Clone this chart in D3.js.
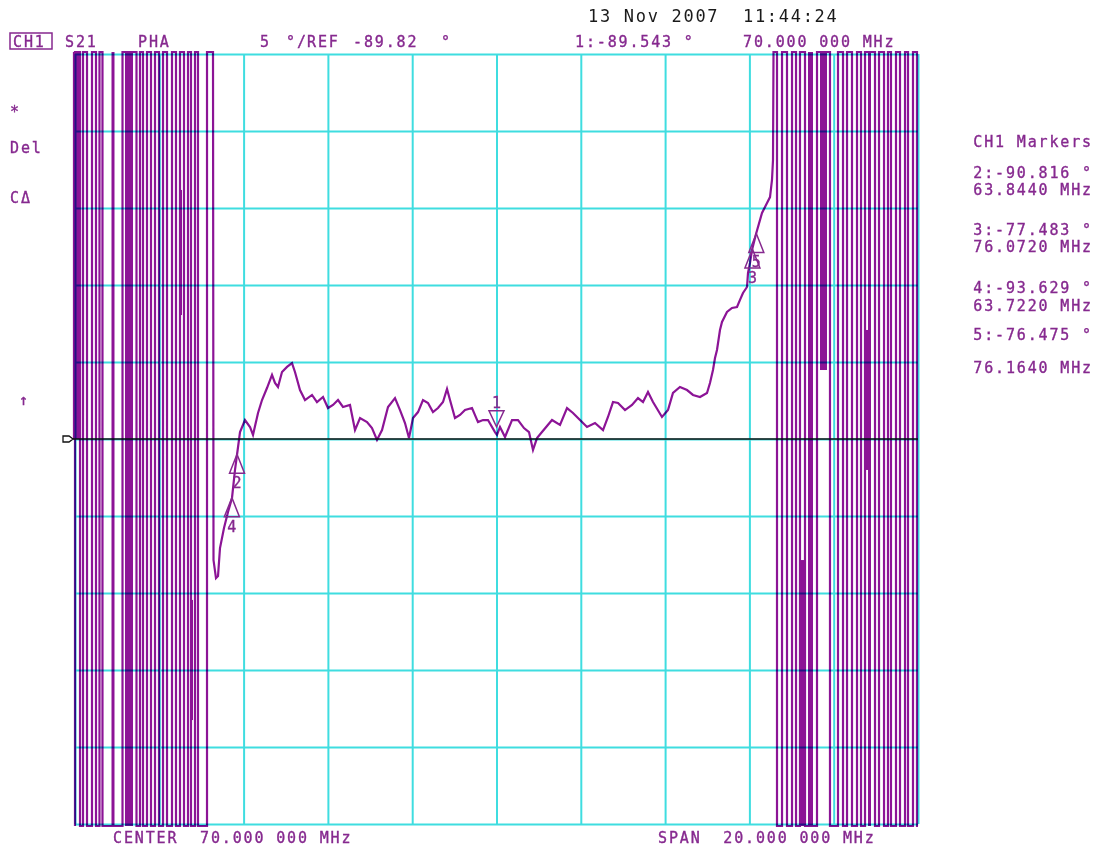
<!DOCTYPE html>
<html>
<head>
<meta charset="utf-8">
<script src="https://cdn.jsdelivr.net/npm/d3@7"></script>
<style>
  body { margin: 0; background: #fff; }
  svg text { font-family: "DejaVu Sans Mono", monospace; font-size: 15px; letter-spacing: 1.85px;
             fill: #86298f; stroke: #86298f; stroke-width: 0.35px; white-space: pre; }
</style>
</head>
<body>
<svg id="chart" width="1104" height="848"></svg>
<script>
// Instrument settings
const startMHz = 60, stopMHz = 80;
const refDeg = -89.82, degPerDiv = 5;

// Main (unwrapped, on-screen) part of the S21 phase trace
const traceFreq = [63.274, 63.286, 63.345, 63.393, 63.440, 63.535, 63.630, 63.725, 63.796, 63.843,
  63.915, 64.033, 64.152, 64.223, 64.342, 64.437, 64.555, 64.674, 64.745, 64.816,
  64.911, 65.030, 65.148, 65.219, 65.338, 65.457, 65.623, 65.741, 65.884, 66.002,
  66.121, 66.240, 66.358, 66.524, 66.643, 66.762, 66.928, 67.046, 67.165, 67.284,
  67.426, 67.592, 67.711, 67.829, 67.924, 68.019, 68.138, 68.256, 68.375, 68.493,
  68.612, 68.731, 68.826, 68.897, 69.015, 69.134, 69.253, 69.419, 69.561, 69.680,
  69.798, 69.964, 70.012, 70.083, 70.202, 70.368, 70.510, 70.652, 70.771, 70.866,
  70.961, 71.079, 71.317, 71.507, 71.673, 71.815, 71.981, 72.147, 72.337, 72.527,
  72.645, 72.764, 72.883, 73.049, 73.215, 73.357, 73.476, 73.594, 73.713, 73.926,
  74.069, 74.187, 74.353, 74.520, 74.662, 74.828, 74.994, 75.065, 75.136, 75.184,
  75.231, 75.302, 75.350, 75.468, 75.587, 75.706, 75.777, 75.848, 75.943, 75.967,
  76.014, 76.062, 76.157, 76.299, 76.418, 76.489, 76.536, 76.560, 76.572];
const tracePhase = [180, -97.68, -98.85, -98.72, -96.90, -95.60, -94.56, -93.65, -91.83, -90.86,
  -89.37, -88.59, -89.04, -89.56, -88.13, -87.29, -86.51, -85.66, -86.18, -86.44,
  -85.47, -85.14, -84.89, -85.47, -86.64, -87.29, -86.96, -87.42, -87.09, -87.81,
  -87.61, -87.29, -87.74, -87.61, -89.24, -88.46, -88.72, -89.11, -89.88, -89.24,
  -87.74, -87.16, -87.94, -88.78, -89.76, -88.46, -88.07, -87.29, -87.48, -88.07,
  -87.81, -87.42, -86.57, -87.29, -88.46, -88.26, -87.94, -87.81, -88.72, -88.59,
  -88.59, -89.37, -89.56, -89.04, -89.69, -88.59, -88.59, -89.11, -89.37, -90.53,
  -89.76, -89.37, -88.59, -88.91, -87.81, -88.13, -88.59, -89.04, -88.78, -89.24,
  -88.39, -87.42, -87.48, -87.94, -87.61, -87.16, -87.42, -86.77, -87.42, -88.39,
  -87.94, -86.83, -86.44, -86.64, -86.96, -87.09, -86.83, -86.18, -85.34, -84.56,
  -84.04, -82.74, -82.22, -81.57, -81.31, -81.25, -80.79, -80.34, -79.95, -79.04,
  -78.39, -77.55, -76.51, -75.14, -74.49, -74.11, -73.00, -71.70, 180];

// Phase-wrap regions: frequencies (MHz) where the trace jumps top <-> bottom
const leftWrapEdges = [60.000, 60.119, 60.190, 60.285, 60.403, 60.498, 60.581, 60.652, 61.127,
  61.459, 61.542, 61.613, 61.708, 61.803, 61.898, 61.993, 62.088, 62.183, 62.301, 62.396,
  62.491, 62.586, 62.681, 62.752, 62.847, 62.918, 63.132];
const rightWrapEdges = [76.655, 76.774, 76.892, 77.011, 77.106, 77.200, 77.319, 77.604, 77.912,
  78.102, 78.221, 78.316, 78.434, 78.553, 78.648, 78.743, 78.980, 79.075, 79.194, 79.288,
  79.359, 79.478, 79.573, 79.692, 79.763, 79.881, 79.976];
// dense (solid) bundles of wrap lines: [fromMHz, toMHz]
const wrapBars = [[60.866, 60.937], [61.186, 61.376], [77.390, 77.509], [78.814, 78.885]];
// partial dense bundles: [fromMHz, toMHz, highDeg, lowDeg]
const wrapStubs = [[59.95, 60.119, 180, -89.82], [62.468, 62.539, -73.65, -81.77],
  [62.729, 62.800, -100.27, -108.07], [77.675, 77.841, 180, -85.34],
  [78.743, 78.861, -82.74, -91.83], [77.200, 77.343, -97.68, -180]];

// Markers
const markerIds = ["1", "2", "3", "4", "5"];
const markerFreq = [70.000, 63.844, 76.072, 63.722, 76.164];
const markerPhase = [-89.543, -90.816, -77.483, -93.629, -76.475];

const svg = d3.select("#chart");
const plotLeft = 75, plotRight = 918, plotTop = 54, plotBottom = 824;
const purple = "#8c1496";
const textPurple = "#86298f";

const x = d3.scaleLinear().domain([startMHz, stopMHz]).range([plotLeft, plotRight]);
const y = d3.scaleLinear().domain([refDeg - 5 * degPerDiv, refDeg + 5 * degPerDiv]).range([plotBottom, plotTop]);
// off-screen values are drawn on the graticule edge
const yc = v => Math.max(plotTop - 2, Math.min(plotBottom + 2, y(v)));

// Build the full trace: left wrap, main trace, right wrap
const TOP = 180, BOTTOM = -180;
const pts = [];
let state = BOTTOM;
pts.push([startMHz, state]);
leftWrapEdges.forEach(f => {
    pts.push([f, state]);
    state = state === TOP ? BOTTOM : TOP;
    pts.push([f, state]);
});
traceFreq.forEach((f, i) => pts.push([f, tracePhase[i]]));
state = TOP;
rightWrapEdges.forEach(f => {
    pts.push([f, state]);
    state = state === TOP ? BOTTOM : TOP;
    pts.push([f, state]);
});
pts.push([stopMHz, state]);

const traceG = svg.append("g");

traceG.selectAll(".bar")
    .data(wrapBars)
    .enter().append("rect")
    .attr("x", d => x(d[0]))
    .attr("width", d => x(d[1]) - x(d[0]))
    .attr("y", plotTop - 2)
    .attr("height", plotBottom - plotTop + 4)
    .style("fill", purple);

traceG.selectAll(".stub")
    .data(wrapStubs)
    .enter().append("rect")
    .attr("x", d => x(d[0]))
    .attr("width", d => x(d[1]) - x(d[0]))
    .attr("y", d => yc(d[2]))
    .attr("height", d => yc(d[3]) - yc(d[2]))
    .style("fill", purple);

traceG.append("path")
    .datum(pts)
    .attr("d", d3.line().x(d => x(d[0])).y(d => yc(d[1])))
    .style("fill", "none")
    .style("stroke", purple)
    .style("stroke-width", 2.2)
    .style("stroke-linejoin", "miter");

// Graticule (drawn over the trace, multiplied so crossings turn blue)
const gridG = svg.append("g").style("mix-blend-mode", "multiply");
const xTicks = d3.range(startMHz, stopMHz + 0.001, 2);
const yTicks = d3.range(-5, 6).map(i => refDeg + i * degPerDiv);

gridG.append("g")
    .attr("transform", `translate(0,${plotBottom})`)
    .call(d3.axisBottom(x).tickValues(xTicks).tickSize(-(plotBottom - plotTop)).tickFormat(""))
    .call(g => g.select(".domain").remove())
    .call(g => g.selectAll("line").style("stroke", "#3fdde0").style("stroke-width", 2));

gridG.append("g")
    .attr("transform", `translate(${plotLeft},0)`)
    .call(d3.axisLeft(y).tickValues(yTicks).tickSize(-(plotRight - plotLeft)).tickFormat(""))
    .call(g => g.select(".domain").remove())
    .call(g => g.selectAll("line").style("stroke", "#3fdde0").style("stroke-width", 2));

// Reference line and reference pointer
svg.append("line")
    .attr("x1", plotLeft - 2).attr("x2", plotRight)
    .attr("y1", y(refDeg)).attr("y2", y(refDeg))
    .style("stroke", "#111").style("stroke-width", 1.6);
svg.append("path")
    .attr("d", `M${plotLeft - 12},${y(refDeg) - 3}h6l4,3l-4,3h-6z`)
    .style("fill", "#fff").style("stroke", "#111").style("stroke-width", 1.3);

// Markers
const mk = markerIds.map((id, i) => ({ id, f: markerFreq[i], p: markerPhase[i] }));
const mG = svg.append("g");
mk.forEach((m, i) => {
    const mx = x(m.f), my = y(m.p);
    if (i === 0) {
        // active marker: inverted triangle above the trace
        const tip = my - 8;
        mG.append("path")
            .attr("d", `M${mx},${tip}L${mx - 7.5},${tip - 16}L${mx + 7.5},${tip - 16}Z`)
            .style("fill", "none").style("stroke", textPurple).style("stroke-width", 1.5);
        mG.append("text").attr("x", mx).attr("y", tip - 19)
            .attr("text-anchor", "middle").style("letter-spacing", "0px").text(m.id);
    } else {
        mG.append("path")
            .attr("d", `M${mx},${my}L${mx - 7.5},${my + 19}L${mx + 7.5},${my + 19}Z`)
            .style("fill", "none").style("stroke", textPurple).style("stroke-width", 1.5);
        mG.append("text").attr("x", mx).attr("y", my + 34)
            .attr("text-anchor", "middle").style("letter-spacing", "0px").text(m.id);
    }
});

// Header
svg.append("text").attr("x", 588).attr("y", 22)
    .style("fill", "#1a1a1a").style("stroke", "none").style("font-size", "17px").style("letter-spacing", "1.7px")
    .text("13 Nov 2007");
svg.append("text").attr("x", 743).attr("y", 22)
    .style("fill", "#1a1a1a").style("stroke", "none").style("font-size", "17px").style("letter-spacing", "1.7px")
    .text("11:44:24");

svg.append("rect").attr("x", 10).attr("y", 33).attr("width", 42).attr("height", 16)
    .style("fill", "none").style("stroke", textPurple).style("stroke-width", 1.5);
const header = [
    [13, "CH1"], [65, "S21"], [138, "PHA"], [260, String(degPerDiv)], [286, "°/"],
    [307, "REF"], [353, refDeg.toFixed(2)], [441, "°"],
    [575, `1:${markerPhase[0].toFixed(3)} °`], [743, "70.000 000 MHz"]
];
svg.selectAll(".hdr").data(header).enter().append("text")
    .attr("x", d => d[0]).attr("y", 47).text(d => d[1]);

// Left annotations
const sideLabels = [[10, 117, "*"], [10, 153, "Del"], [10, 203, "CΔ"], [19, 405, "↑"]];
svg.selectAll(".side").data(sideLabels).enter().append("text")
    .attr("x", d => d[0]).attr("y", d => d[1]).text(d => d[2]);

// Footer
svg.append("text").attr("x", 113).attr("y", 843).text("CENTER  " + ((startMHz + stopMHz) / 2).toFixed(3) + " 000 MHz");
svg.append("text").attr("x", 658).attr("y", 843).text("SPAN  " + (stopMHz - startMHz).toFixed(3) + " 000 MHz");

// Marker table on the right
const tableRows = [[147, "CH1 Markers"]];
const rowY = [[178, 195], [235, 252], [293, 311], [340, 373]];
mk.slice(1).forEach((m, i) => {
    tableRows.push([rowY[i][0], `${m.id}:${m.p.toFixed(3)} °`]);
    tableRows.push([rowY[i][1], `${m.f.toFixed(4)} MHz`]);
});
svg.selectAll(".tbl").data(tableRows).enter().append("text")
    .attr("x", 1093).attr("y", d => d[0]).attr("text-anchor", "end").text(d => d[1]);
</script>
</body>
</html>
